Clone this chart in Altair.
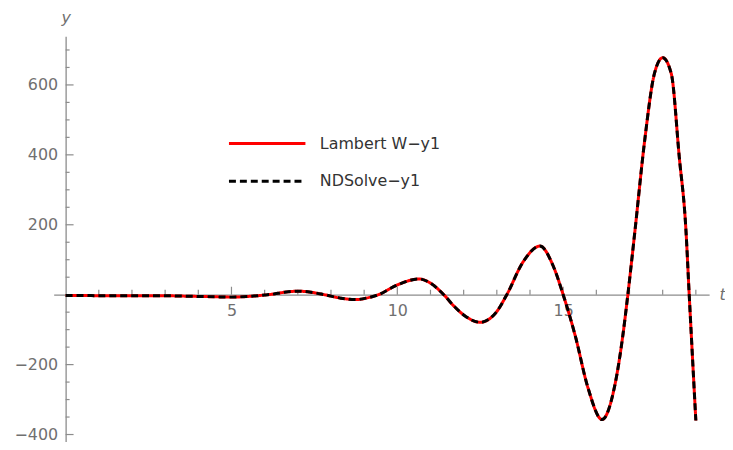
import altair as alt
import pandas as pd

# ---- data ----
t_vals = [0, 0.5, 1, 1.5, 2, 2.5, 3, 3.5, 4, 4.5, 5, 5.5, 6.0, 6.2, 6.6, 7.0, 7.4, 7.8,
          8.3, 8.77, 9.1, 9.43, 10.0, 10.66, 11.0, 11.4, 11.7, 12.0, 12.5, 13.0, 13.3,
          13.8, 14.3, 14.7, 15.0, 15.36, 15.75, 16.17, 16.56, 16.8, 16.95, 17.16, 17.46,
          17.75, 18.0, 18.26, 18.5, 18.7, 18.8, 19.0]
y1_vals = [-2, -2, -3, -3, -3, -3, -3, -4, -5, -6, -7, -5, -1, 1, 7, 10, 7, 0,
           -10, -14, -9, 0, 28, 45, 33, 0, -32, -58, -79, -48, 0,
           95, 139, 82, 0, -116, -267, -357, -258, -116, 0, 179, 443,
           632, 678, 632, 394, 187, 0, -360]
series_names = ["Lambert W\u2212y1", "NDSolve\u2212y1"]

x_major = [5, 10, 15]
x_minor = [1, 2, 3, 4, 6, 7, 8, 9, 11, 12, 13, 14, 16, 17, 18, 19]
y_major = [-400, -200, 200, 400, 600]
y_minor = [-350, -300, -250, -150, -100, -50, 50, 100, 150, 250, 300, 350,
           450, 500, 550, 650, 700]

X_DOMAIN = [-0.36, 19.4]
Y_DOMAIN = [-420, 739]

# ---- layout / style ----
W, H = 660, 408
PAD_L, PAD_T, PAD_R, PAD_B = 46, 27, 16, 6
FONT = "DejaVu Sans"
FS = 16
AX = "#8c8c8c"
LBL = "#707070"

rows = []
for name in series_names:
    for t, v in zip(t_vals, y1_vals):
        rows.append({"t": t, "y": v, "series": name})
df = pd.DataFrame(rows)

x_scale = alt.Scale(domain=X_DOMAIN, nice=False, zero=False)
y_scale = alt.Scale(domain=Y_DOMAIN, nice=False, zero=False)

x_off = -H * (0 - Y_DOMAIN[0]) / (Y_DOMAIN[1] - Y_DOMAIN[0])
y_off = -W * (0 - X_DOMAIN[0]) / (X_DOMAIN[1] - X_DOMAIN[0])

# pixel -> data-unit conversions for tick lengths
Y_PER_PX = (Y_DOMAIN[1] - Y_DOMAIN[0]) / H
X_PER_PX = (X_DOMAIN[1] - X_DOMAIN[0]) / W

x_axis = alt.Axis(values=x_major, offset=x_off, ticks=False, tickSize=0, grid=False,
                  domainColor=AX, domainWidth=1.3, labelColor=LBL, labelFont=FONT,
                  labelFontSize=FS, labelPadding=8, labelFlush=False,
                  title="t", titleX=W + 10, titleY=0, titleAlign="left",
                  titleBaseline="middle", titleAngle=0, titleFont=FONT,
                  titleFontSize=FS, titleFontStyle="italic", titleFontWeight="normal",
                  titleColor=LBL)
y_axis = alt.Axis(values=y_major, offset=y_off, ticks=False, tickSize=0, grid=False,
                  domainColor=AX, domainWidth=1.3, labelColor=LBL, labelFont=FONT,
                  labelFontSize=FS, labelPadding=8, labelFlush=False,
                  title="y", titleX=0, titleY=-19, titleAlign="center",
                  titleBaseline="middle", titleAngle=0, titleFont=FONT,
                  titleFontSize=FS, titleFontStyle="italic", titleFontWeight="normal",
                  titleColor=LBL)

legend = alt.Legend(title=None, orient="none", legendX=175, legendY=99,
                    symbolType="stroke", symbolSize=5929, symbolStrokeWidth=3,
                    labelFont=FONT, labelFontSize=FS, labelColor="#333333",
                    labelOffset=13, clipHeight=18, rowPadding=20, padding=0)

lines = alt.Chart(df).mark_line(strokeWidth=3, interpolate="monotone").encode(
    x=alt.X("t:Q", scale=x_scale, axis=x_axis),
    y=alt.Y("y:Q", scale=y_scale, axis=y_axis),
    color=alt.Color("series:N",
                    scale=alt.Scale(domain=series_names, range=["#ff0000", "#000000"]),
                    legend=legend),
    strokeDash=alt.StrokeDash("series:N",
                              scale=alt.Scale(domain=series_names, range=[[1, 0], [7, 4]]),
                              legend=legend),
    order=alt.Order("series:N"),
)

def x_ticks(vals, length_px):
    d = pd.DataFrame({"xv": vals, "ya": [0.0] * len(vals),
                      "yb": [length_px * Y_PER_PX] * len(vals)})
    return alt.Chart(d).mark_rule(color=AX, strokeWidth=1.2).encode(
        x=alt.X("xv:Q", scale=x_scale, axis=x_axis),
        y=alt.Y("ya:Q", scale=y_scale, axis=y_axis),
        y2=alt.Y2("yb:Q"))

def y_ticks(vals, length_px):
    d = pd.DataFrame({"yv": vals, "xa": [0.0] * len(vals),
                      "xb": [length_px * X_PER_PX] * len(vals)})
    return alt.Chart(d).mark_rule(color=AX, strokeWidth=1.2).encode(
        y=alt.Y("yv:Q", scale=y_scale, axis=y_axis),
        x=alt.X("xa:Q", scale=x_scale, axis=x_axis),
        x2=alt.X2("xb:Q"))

chart = alt.layer(x_ticks(x_minor, 5), x_ticks(x_major, 8),
                  y_ticks(y_minor, 4), y_ticks(y_major, 8), lines).properties(
    width=W, height=H,
    autosize=alt.AutoSizeParams(type="none"),
    padding={"left": PAD_L, "top": PAD_T, "right": PAD_R, "bottom": PAD_B},
    background="white",
).configure_view(stroke=None)

chart.save("out.html", embed_options={"renderer": "svg", "actions": False})
